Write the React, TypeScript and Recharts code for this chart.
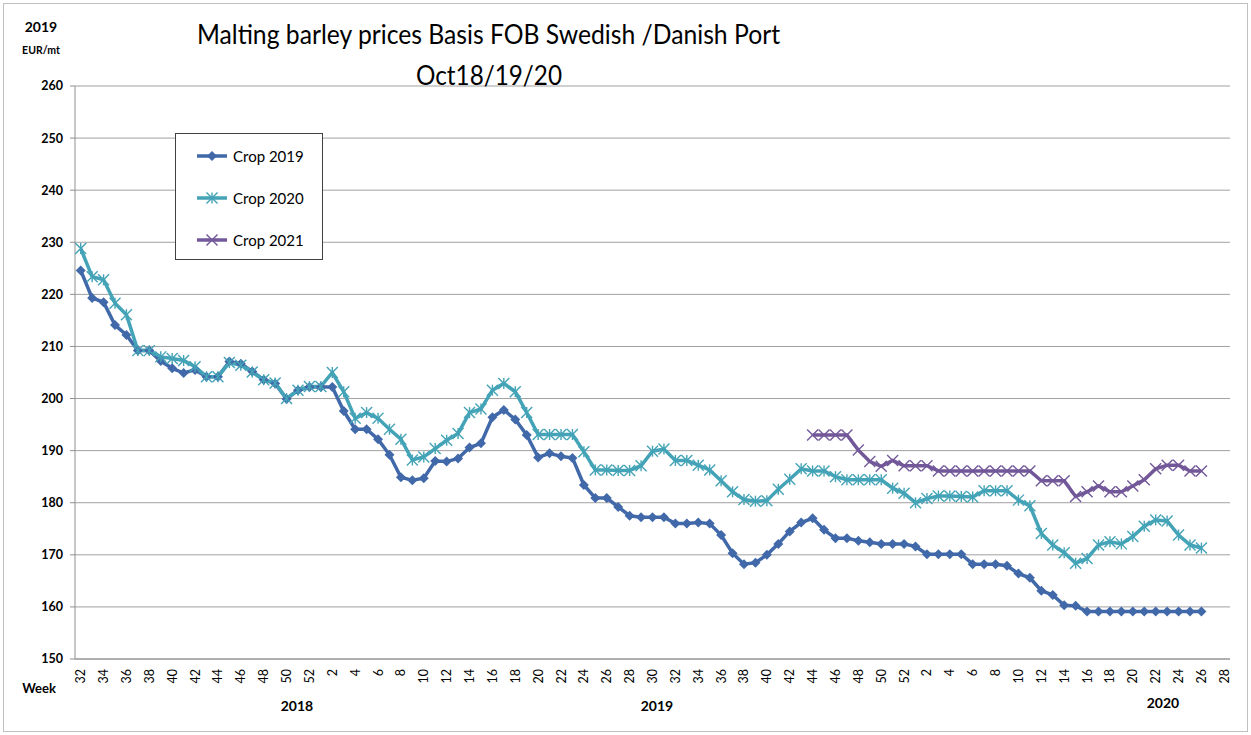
import { LineChart, Line, XAxis, YAxis, CartesianGrid } from 'recharts';

// week numbers on the category axis: 2018 w32 .. 2020 w28
const weeks = [
  32, 33, 34, 35, 36, 37, 38, 39, 40, 41, 42, 43, 44, 45, 46, 47, 48, 49, 50, 51, 52,
  1, 2, 3, 4, 5, 6, 7, 8, 9, 10, 11, 12, 13, 14, 15, 16, 17, 18, 19, 20, 21, 22, 23, 24, 25, 26,
  27, 28, 29, 30, 31, 32, 33, 34, 35, 36, 37, 38, 39, 40, 41, 42, 43, 44, 45, 46, 47, 48, 49, 50, 51, 52,
  1, 2, 3, 4, 5, 6, 7, 8, 9, 10, 11, 12, 13, 14, 15, 16, 17, 18, 19, 20, 21, 22, 23, 24, 25, 26, 27, 28,
];

const crop2019 = [
  224.6, 219.3, 218.5, 214.1, 212.2, 209.2, 209.2, 207.2, 205.8, 204.9, 205.5, 204.2, 204.2, 207.1, 206.7, 205.2, 203.6, 202.9, 199.9, 201.6, 202.2,
  202.2, 202.2, 197.6, 194.1, 194.1, 192.2, 189.2, 184.9, 184.3, 184.7, 188.0, 187.9, 188.5, 190.6, 191.4, 196.4, 197.8, 196.0, 193.0, 188.7, 189.5, 188.9, 188.6, 183.4, 180.9, 180.9,
  179.2, 177.5, 177.2, 177.2, 177.2, 176.0, 176.0, 176.2, 176.0, 173.8, 170.3, 168.2, 168.5, 170.0, 172.1, 174.5, 176.2, 177.0, 174.8, 173.2, 173.2, 172.7, 172.4, 172.1, 172.1, 172.1,
  171.6, 170.1, 170.1, 170.1, 170.1, 168.2, 168.2, 168.2, 167.9, 166.4, 165.6, 163.1, 162.3, 160.3, 160.2, 159.1, 159.1, 159.1, 159.1, 159.1, 159.1, 159.1, 159.1, 159.1, 159.1, 159.1, null, null,
];

const crop2020 = [
  228.8, 223.4, 222.8, 218.3, 216.1, 209.2, 209.2, 208.0, 207.7, 207.3, 206.1, 204.2, 204.2, 206.9, 206.4, 205.1, 203.6, 203.0, 200.0, 201.6, 202.3,
  202.3, 205.0, 201.3, 196.2, 197.3, 196.2, 194.1, 192.2, 188.2, 188.8, 190.4, 192.0, 193.3, 197.3, 198.0, 201.6, 202.9, 201.3, 197.3, 193.1, 193.1, 193.1, 193.1, 189.8, 186.3, 186.3,
  186.2, 186.2, 187.1, 189.9, 190.3, 188.1, 188.1, 187.2, 186.3, 184.2, 182.1, 180.6, 180.3, 180.4, 182.6, 184.5, 186.5, 186.1, 186.1, 185.0, 184.4, 184.4, 184.4, 184.4, 182.8, 181.8,
  180.0, 180.8, 181.3, 181.3, 181.2, 181.1, 182.3, 182.3, 182.3, 180.5, 179.4, 174.1, 171.9, 170.4, 168.4, 169.3, 171.9, 172.5, 172.1, 173.5, 175.5, 176.7, 176.5, 173.8, 171.9, 171.3, null, null,
];

const crop2021 = [
  null, null, null, null, null, null, null, null, null, null, null, null, null, null, null, null, null, null, null, null, null,
  null, null, null, null, null, null, null, null, null, null, null, null, null, null, null, null, null, null, null, null, null, null, null, null, null, null,
  null, null, null, null, null, null, null, null, null, null, null, null, null, null, null, null, null, 193.0, 193.0, 193.0, 193.0, 190.1, 187.9, 187.0, 188.1, 187.1,
  187.1, 187.1, 186.1, 186.1, 186.1, 186.1, 186.1, 186.1, 186.1, 186.1, 186.1, 184.2, 184.2, 184.2, 181.2, 182.1, 183.2, 182.1, 182.1, 183.2, 184.4, 186.5, 187.2, 187.2, 186.1, 186.1, null, null,
];

const yTicks = [150, 160, 170, 180, 190, 200, 210, 220, 230, 240, 250, 260];

const BLUE = '#4169A9';
const TEAL = '#44A3B7';
const PURPLE = '#725899';
const FONT = 'Lato, "Open Sans", sans-serif';

const data = weeks.map((w, i) => ({
  i,
  week: w,
  c2019: crop2019[i],
  c2020: crop2020[i],
  c2021: crop2021[i],
}));

function Diamond({ cx, cy, value }: any) {
  if (value == null || cx == null || cy == null) return <g />;
  const r = 5;
  return <path d={`M${cx},${cy - r}L${cx + r},${cy}L${cx},${cy + r}L${cx - r},${cy}Z`} fill={BLUE} />;
}

function Star({ cx, cy, value, color = TEAL }: any) {
  if (value == null || cx == null || cy == null) return <g />;
  const r = 5.5;
  return (
    <g stroke={color} strokeWidth={1.4}>
      <line x1={cx} y1={cy - r} x2={cx} y2={cy + r} />
      <line x1={cx - r} y1={cy - r} x2={cx + r} y2={cy + r} />
      <line x1={cx - r} y1={cy + r} x2={cx + r} y2={cy - r} />
    </g>
  );
}

function Cross({ cx, cy, value, color = PURPLE }: any) {
  if (value == null || cx == null || cy == null) return <g />;
  const r = 5.5;
  return (
    <g stroke={color} strokeWidth={1.4}>
      <line x1={cx - r} y1={cy - r} x2={cx + r} y2={cy + r} />
      <line x1={cx - r} y1={cy + r} x2={cx + r} y2={cy - r} />
    </g>
  );
}

function WeekTick({ x, y, payload }: any) {
  const w = weeks[payload.value];
  if (w % 2 !== 0) return <g />;
  const ty = y + 2;
  return (
    <text
      x={x}
      y={ty}
      transform={`rotate(-90 ${x} ${ty})`}
      textAnchor="end"
      dominantBaseline="central"
      fontSize={12.5}
      fontFamily={FONT}
      fill="#000"
    >
      {w}
    </text>
  );
}

const legendItems = [
  { name: 'Crop 2019', color: BLUE, mark: 'diamond' },
  { name: 'Crop 2020', color: TEAL, mark: 'star' },
  { name: 'Crop 2021', color: PURPLE, mark: 'cross' },
];

export default function App() {
  return (
    <div style={{ position: 'relative', width: 1251, height: 735, background: '#fff', fontFamily: FONT }}>
      <style>{'body{margin:0}'}</style>
      <LineChart width={1251} height={735} data={data} margin={{ top: 86, right: 21, left: 0, bottom: 26 }}>
        <CartesianGrid vertical={false} stroke="#A0A0A0" />
        <XAxis
          dataKey="i"
          type="category"
          interval={0}
          height={50}
          padding={{ left: 5.7, right: 5.7 }}
          tick={<WeekTick />}
          tickLine={false}
          axisLine={{ stroke: '#909090' }}
        />
        <YAxis
          type="number"
          domain={[150, 260]}
          ticks={yTicks}
          width={75}
          tickSize={5}
          tickMargin={7}
          interval={0}
          tickLine={{ stroke: '#909090' }}
          axisLine={{ stroke: '#909090' }}
          tick={{ fontSize: 12.5, fontWeight: 700, fill: '#000', fontFamily: FONT }}
        />
        <Line dataKey="c2019" stroke={BLUE} strokeWidth={3.5} dot={(p: any) => <Diamond key={p.index} {...p} />} isAnimationActive={false} />
        <Line dataKey="c2020" stroke={TEAL} strokeWidth={3.5} dot={(p: any) => <Star key={p.index} {...p} />} isAnimationActive={false} />
        <Line dataKey="c2021" stroke={PURPLE} strokeWidth={3.5} dot={(p: any) => <Cross key={p.index} {...p} />} isAnimationActive={false} />
      </LineChart>

      <svg width={1251} height={735} style={{ position: 'absolute', left: 0, top: 0, pointerEvents: 'none' }}>
        <rect x={3.5} y={3.5} width={1244} height={728} fill="none" stroke="#C0C0C0" />
        <text x={41} y={32} textAnchor="middle" fontSize={14} fontWeight={700} fontFamily={FONT}>2019</text>
        <text x={41} y={54} textAnchor="middle" fontSize={10.5} fontWeight={700} fontFamily={FONT}>EUR/mt</text>
        <text x={197} y={44} fontSize={27} fontFamily={FONT} textLength={583} lengthAdjust="spacingAndGlyphs">
          Malting barley prices Basis FOB Swedish /Danish Port
        </text>
        <text x={416} y={85} fontSize={27} fontFamily={FONT} textLength={146} lengthAdjust="spacingAndGlyphs">
          Oct18/19/20
        </text>
        <text x={39} y={693} textAnchor="middle" fontSize={13} fontWeight={700} fontFamily={FONT}>Week</text>
        <text x={297} y={711} textAnchor="middle" fontSize={14} fontWeight={700} fontFamily={FONT}>2018</text>
        <text x={657} y={711} textAnchor="middle" fontSize={14} fontWeight={700} fontFamily={FONT}>2019</text>
        <text x={1163} y={708} textAnchor="middle" fontSize={14} fontWeight={700} fontFamily={FONT}>2020</text>
      </svg>

      <div
        style={{
          position: 'absolute',
          left: 175,
          top: 133,
          width: 146,
          height: 125,
          background: '#fff',
          border: '1px solid #404040',
        }}
      >
        {legendItems.map((it, k) => (
          <div key={it.name} style={{ position: 'absolute', left: 20, top: 10 + k * 42, height: 24, display: 'flex', alignItems: 'center' }}>
            <svg width={32} height={14}>
              <line x1={1} y1={7} x2={31} y2={7} stroke={it.color} strokeWidth={3.5} />
              {it.mark === 'diamond' && <Diamond cx={16} cy={7} value={1} />}
              {it.mark === 'star' && <Star cx={16} cy={7} value={1} />}
              {it.mark === 'cross' && <Cross cx={16} cy={7} value={1} />}
            </svg>
            <span style={{ marginLeft: 5, fontSize: 15, color: '#000' }}>{it.name}</span>
          </div>
        ))}
      </div>
    </div>
  );
}
